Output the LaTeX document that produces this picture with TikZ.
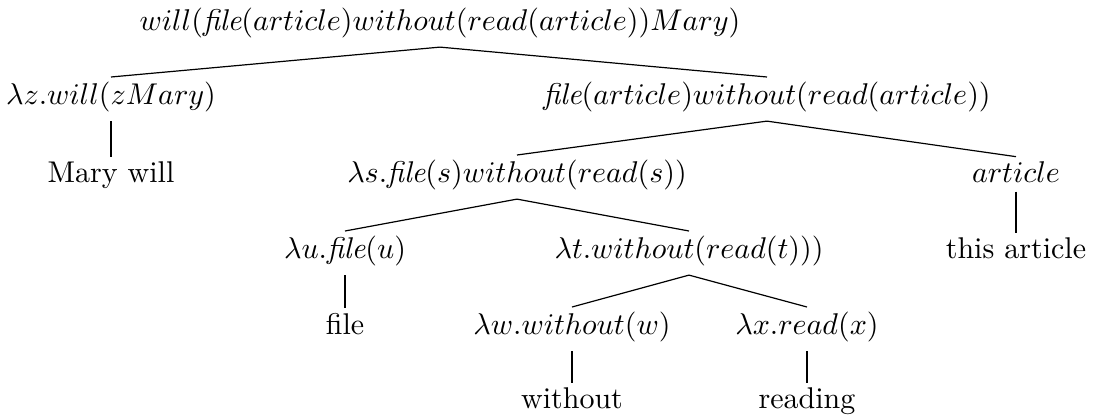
\documentclass[tikz,border=0pt]{standalone}
\begin{document}
\begin{tikzpicture}[x=0.3333pt,y=-0.3333pt,
  lbl/.style={anchor=base,inner xsep=0pt,inner ysep=1.3pt},
  edge/.style={line width=0.4pt}]
\useasboundingbox (0,0) rectangle (1094,417);
% semantic terms, placed on their baselines
\node[lbl] (root) at (440,30)  {$will(\textit{file}(article)without(read(article))Mary)$};
\node[lbl] (lz)   at (111,104) {$\lambda z.will(zMary)$};
\node[lbl] (fa)   at (767,104) {$\textit{file}(article)without(read(article))$};
\node[lbl] (mw)   at (111,182) {Mary will};
\node[lbl] (ls)   at (517,182) {$\lambda s.\textit{file}(s)without(read(s))$};
\node[lbl] (art)  at (1016,182) {$article$};
\node[lbl] (lu)   at (345,258) {$\lambda u.\textit{file}(u)$};
\node[lbl] (lt)   at (689,258) {$\lambda t.without(read(t)))$};
\node[lbl] (ta)   at (1016,258) {this article};
\node[lbl] (fl)   at (345,334) {file};
\node[lbl] (lw)   at (572,334) {$\lambda w.without(w)$};
\node[lbl] (lx)   at (807,334) {$\lambda x.read(x)$};
\node[lbl] (wo)   at (572,408) {without};
\node[lbl] (rd)   at (807,408) {reading};
% branches
\foreach \p/\c in {root/lz,root/fa,lz/mw,fa/ls,fa/art,art/ta,ls/lu,ls/lt,lu/fl,lt/lw,lt/lx,lw/wo,lx/rd}
  \draw[edge] ([yshift=-1.7pt]\p.south) -- (\c.north);
\end{tikzpicture}
\end{document}
